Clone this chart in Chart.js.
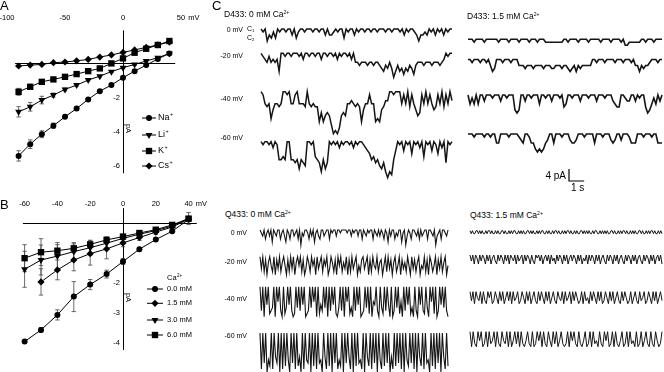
<!DOCTYPE html>
<html>
<head>
<meta charset="utf-8">
<script src="https://cdn.jsdelivr.net/npm/chart.js@4.4.1/dist/chart.umd.min.js"></script>
<style>
  body { margin:0; background:#fff; }
  #fig { position:relative; width:664px; height:372px; overflow:hidden;
         font-family:'Liberation Sans', Arial, sans-serif; color:#000; }
  #fig canvas { position:absolute; }
  .t { position:absolute; white-space:nowrap; line-height:1; color:#000; }
  .t sup { font-size:60%; vertical-align:0; position:relative; top:-0.5em; }
  .t sub { font-size:60%; vertical-align:0; position:relative; top:0.3em; }
  .r { text-align:right; }
</style>
</head>
<body>
<div id="fig">
  <canvas id="chA" width="220" height="180" style="left:0;top:0"></canvas>
  <canvas id="chB" width="220" height="192" style="left:0;top:180px"></canvas>
  <canvas id="chC1" width="205" height="175" style="left:255px;top:20px"></canvas>
  <canvas id="chC2" width="202" height="175" style="left:462px;top:20px"></canvas>
  <canvas id="chC3" width="205" height="152" style="left:255px;top:220px"></canvas>
  <canvas id="chC4" width="202" height="152" style="left:462px;top:220px"></canvas>

  <div class="t" style="left:0;top:-1px;font-size:13px">A</div>
  <div class="t" style="left:0;top:198px;font-size:13px">B</div>
  <div class="t" style="left:212px;top:-1px;font-size:13px">C</div>

  <div class="t" style="left:224px;top:10px;font-size:8.5px">D433: 0 mM Ca<sup>2+</sup></div>
  <div class="t" style="left:467px;top:12px;font-size:8.5px">D433: 1.5 mM Ca<sup>2+</sup></div>
  <div class="t" style="left:225px;top:210px;font-size:8.5px">Q433: 0 mM Ca<sup>2+</sup></div>
  <div class="t" style="left:470px;top:211px;font-size:8.5px">Q433: 1.5 mM Ca<sup>2+</sup></div>

  <div class="t r" style="right:421px;top:25.5px;font-size:7px">0 mV</div>
  <div class="t r" style="right:421px;top:51.5px;font-size:7px">-20 mV</div>
  <div class="t r" style="right:421px;top:94.5px;font-size:7px">-40 mV</div>
  <div class="t r" style="right:421px;top:133.5px;font-size:7px">-60 mV</div>
  <div class="t" style="left:247px;top:24.5px;font-size:7px">C<sub>1</sub></div>
  <div class="t" style="left:247px;top:33.5px;font-size:7px">C<sub>2</sub></div>

  <div class="t r" style="right:417px;top:228.5px;font-size:7px">0 mV</div>
  <div class="t r" style="right:417px;top:257.5px;font-size:7px">-20 mV</div>
  <div class="t r" style="right:417px;top:294.5px;font-size:7px">-40 mV</div>
  <div class="t r" style="right:417px;top:331.5px;font-size:7px">-60 mV</div>
</div>

<script>
// ---------- A · I-V, monovalent cations ----------
const MV_A = [-90, -80, -70, -60, -50, -40, -30, -20, -10, 0, 10, 20, 30, 40];
const NA_A = [-5.39, -4.71, -4.13, -3.64, -3.12, -2.64, -2.11, -1.63, -1.28, -0.85, -0.47, -0.12, 0.24, 0.56];
const LI_A = [-2.83, -2.54, -2.15, -1.86, -1.53, -1.28, -0.99, -0.76, -0.5, -0.27, -0.08, 0.12, 0.31, 0.55];
const K_A  = [-1.67, -1.38, -1.09, -0.95, -0.8, -0.64, -0.47, -0.31, -0.02, 0.27, 0.6, 0.83, 1.05, 1.28];
const CS_A = [-0.17, -0.12, -0.08, 0.02, 0.06, 0.13, 0.21, 0.35, 0.47, 0.62, 0.76, 0.91, 1.05, 1.22];
const NA_A_ERR = [0.3, 0.25, 0.2, 0.15, 0.1, 0.08, 0.06, 0.05, 0.05, 0.05, 0.05, 0.05, 0.05, 0.05];
const LI_A_ERR = [0.3, 0.25, 0.22, 0.12, 0.08, 0.06, 0.05, 0.05, 0.05, 0.05, 0.05, 0.05, 0.05, 0.05];
const K_A_ERR  = [0.2, 0.15, 0.12, 0.08, 0.06, 0.05, 0.05, 0.05, 0.05, 0.05, 0.05, 0.05, 0.05, 0.05];
const X_TICKS_A = [-100, -50, 0, 50];
const Y_TICKS_A = [-2, -4, -6];

// ---------- B · I-V, Na+ with external Ca2+ ----------
const MV_B = [-60, -50, -40, -30, -20, -10, 0, 10, 20, 30, 40];
const CA0_B  = [-3.97, -3.58, -3.08, -2.47, -2.07, -1.72, -1.3, -0.89, -0.57, -0.29, 0.1];
const CA15_B = [null, -1.98, -1.58, -1.25, -1.04, -0.88, -0.68, -0.5, -0.32, -0.15, 0.11];
const CA3_B  = [-1.56, -1.25, -1.12, -0.97, -0.84, -0.69, -0.53, -0.39, -0.27, -0.12, 0.13];
const CA6_B  = [-1.19, -0.99, -0.94, -0.86, -0.73, -0.58, -0.47, -0.35, -0.24, -0.08, 0.13];
const CA0_B_ERR  = [0, 0.08, 0.17, 0.5, 0.17, 0.13, 0.1, 0.06, 0.05, 0.05, 0.05];
const CA15_B_ERR = [0, 0.44, 0.33, 0.36, 0.38, 0.33, 0.13, 0.1, 0.08, 0.05, 0.05];
const CA3_B_ERR  = [0.6, 0.5, 0.45, 0.3, 0.25, 0.2, 0.1, 0.06, 0.05, 0.05, 0.2];
const CA6_B_ERR  = [0.45, 0.45, 0.2, 0.15, 0.12, 0.1, 0.08, 0.06, 0.05, 0.05, 0.05];
const X_TICKS_B = [-60, -40, -20, 0, 20, 40];
const Y_TICKS_B = [-2, -3, -4];

// ---------- C · single-channel records (downward current, pA per sample, base-36 digit) ----------
const TRACE_SECONDS = 12.8;
const D433_0CA = [
  '010423130100100203100100010010020221010030100201001001001000100100010201001242212010201020100',
  '01231323260010010001020010010020010010201001020334333433433456453586465756457433343334333432' + '0100',
  '0145496445400104410444504545' + '5a7a878bedec878443454' + '5a644144a9a6533001000414051468714041465' + '14051403',
  '010010201665600667696780010' + '567a69701' + '0102010010201001234657' + '6897acab63' + '0103010401020501030140207010'
];
const D433_15CA = [
  '00010000100000010000100001000010001000' + '111111111' + '001000010000100000100001000010' + '22111111' + '00100010000',
  '00100010010243000100010002223222322223222332223223432423222220010001000010001000102242322' + '1000100',
  '031303002000100020010005650020010003001002000104300100020001000200010002344001220020100465313020',
  '000100001001003300001000012300133565653200300010002332000100003000100023200200013330001000100333'
];
const Q433_0CA = [
  '0120310204012003102401300210305120013020410230021003010020010000100201002003012010030120201301402003120041052013001203021003001205210300120',
  '0405162035061405203615040620305164025031604205130640251603052406150420635104206150340521630504162053061425036041520634051602530614052063',
  '080a0609870a0508a0970608a90708060a9807050a0968070a080609a7080a05097a08060a9807090a5608a0790806a0a807095a0806097a08a0608907a05090a8060708a',
  '0c0a0d9b0c08a0d0c0b09d0a0c0b8d0c09a0d0b0c0a9d08c0b0d0a0c9b0d0a08c0d0b0a9c0d08b0c0a0d09c0b0a0d8c0b0a0c0d09b0a0c0d08b0c0a9d0b0c0a0d08c0b'
];
const Q433_15CA = [
  '010110010101101001011010110010110101001101010110010101101010011010110100101101010010110101100101010110100110101010110010110101001011010101100101101010010110101',
  '020301302013020310230201302030120302103020130230102031020302130201302031020130203120302013020310230201302031023020130203102302013020310203',
  '0304023040340204302403042030403204302403042034030240304203402304032040302430403240302403043024030420340302430420340320430240304203',
  '0504503054050430504503405053040504530450540305045035040530454050304504530540504350450305405045305405043505405304504503540'
];
const SCALE_BAR = { pA: 4, seconds: 1 };

// layout
const PX_PER_PA = 3;
const FONT = '"Liberation Sans", Arial, sans-serif';

function ptsWithErr(xs, ys, errs) {
  return xs.map((x, i) => ({ x, y: ys[i], e: errs ? errs[i] : 0 })).filter(p => p.y != null);
}

function ivSeries(label, xs, ys, errs, style, radius, rotation) {
  return {
    label, data: ptsWithErr(xs, ys, errs),
    borderColor: '#000', borderWidth: 1, tension: 0, clip: false,
    pointStyle: style, pointRadius: radius, pointRotation: rotation || 0,
    pointBackgroundColor: '#000', pointBorderColor: '#000', pointBorderWidth: 0,
  };
}

function drawSup(ctx, parts, x, y, size) {
  ctx.font = size + 'px ' + FONT;
  ctx.fillText(parts[0], x, y);
  if (parts[1]) {
    const w = ctx.measureText(parts[0]).width;
    ctx.font = (size * 0.6) + 'px ' + FONT;
    ctx.fillText(parts[1], x + w + 0.5, y - size * 0.35);
  }
}

const ivPlugin = {
  id: 'iv',
  beforeDatasetsDraw(chart, args, o) {
    const { ctx, scales: { x, y } } = chart;
    ctx.save();
    ctx.strokeStyle = '#000';
    ctx.lineWidth = 1;
    const y0 = Math.round(y.getPixelForValue(0)) + 0.5;
    const x0 = Math.round(x.getPixelForValue(0)) + 0.5;
    ctx.beginPath();
    ctx.moveTo(x.getPixelForValue(o.xLine[0]), y0);
    ctx.lineTo(x.getPixelForValue(o.xLine[1]), y0);
    ctx.moveTo(x0, y.getPixelForValue(o.yLine[1]));
    ctx.lineTo(x0, y.getPixelForValue(o.yLine[0]));
    ctx.stroke();
    // error bars
    ctx.strokeStyle = '#444';
    ctx.lineWidth = 0.8;
    chart.data.datasets.forEach(ds => {
      ds.data.forEach(p => {
        if (!p.e) return;
        const px = x.getPixelForValue(p.x);
        const t = y.getPixelForValue(p.y + p.e), b = y.getPixelForValue(p.y - p.e);
        ctx.beginPath();
        ctx.moveTo(px, t); ctx.lineTo(px, b);
        ctx.moveTo(px - 2.2, t); ctx.lineTo(px + 2.2, t);
        ctx.moveTo(px - 2.2, b); ctx.lineTo(px + 2.2, b);
        ctx.stroke();
      });
    });
    ctx.restore();
  },
  afterDatasetsDraw(chart, args, o) {
    const { ctx, scales: { x, y } } = chart;
    const x0 = x.getPixelForValue(0);
    ctx.save();
    ctx.fillStyle = '#000';
    ctx.textBaseline = 'middle';
    ctx.font = o.tickSize + 'px ' + FONT;
    // x tick labels in a row above the plot
    o.xTicks.forEach((v, i) => {
      const px = x.getPixelForValue(v);
      ctx.textAlign = 'center';
      ctx.fillText(String(v), px, o.tickRow);
      if (i === o.xTicks.length - 1) {
        ctx.textAlign = 'left';
        ctx.fillText('mV', px + ctx.measureText(String(v)).width / 2 + 3, o.tickRow);
      }
    });
    ctx.textAlign = 'right';
    o.yTicks.forEach(v => ctx.fillText(String(v), x0 - 3, y.getPixelForValue(v)));
    // rotated unit
    ctx.save();
    ctx.translate(x0 + 5, y.getPixelForValue(o.unitAt));
    ctx.rotate(Math.PI / 2);
    ctx.textAlign = 'center';
    ctx.fillText('pA', 0, 0);
    ctx.restore();
    // legend
    const L = o.legend;
    ctx.textAlign = 'left';
    if (L.title) drawSup(ctx, L.title, L.textX, L.titleY, L.size);
    chart.data.datasets.forEach((ds, i) => {
      const ly = L.rows[i];
      ctx.strokeStyle = '#000';
      ctx.lineWidth = 1;
      ctx.beginPath();
      ctx.moveTo(L.lineX[0], ly); ctx.lineTo(L.lineX[1], ly);
      ctx.stroke();
      Chart.helpers.drawPoint(ctx, {
        pointStyle: ds.pointStyle, radius: ds.pointRadius,
        rotation: ds.pointRotation, borderWidth: 0,
      }, (L.lineX[0] + L.lineX[1]) / 2, ly);
      ctx.fillStyle = '#000';
      drawSup(ctx, L.labels[i], L.textX, ly, L.size);
    });
    ctx.restore();
  }
};

function ivChart(id, datasets, xr, yr, pad, plug) {
  return new Chart(document.getElementById(id), {
    type: 'line',
    data: { datasets },
    options: {
      responsive: false, animation: false, devicePixelRatio: 1,
      layout: { padding: pad },
      scales: {
        x: { type: 'linear', min: xr[0], max: xr[1], display: false },
        y: { type: 'linear', min: yr[0], max: yr[1], display: false },
      },
      plugins: { legend: { display: false }, tooltip: { enabled: false }, iv: plug },
    },
    plugins: [ivPlugin],
  });
}

ivChart('chA', [
  ivSeries('Na+', MV_A, NA_A, NA_A_ERR, 'circle', 3),
  ivSeries('Li+', MV_A, LI_A, LI_A_ERR, 'triangle', 4, 180),
  ivSeries('K+', MV_A, K_A, K_A_ERR, 'rect', 4.5),
  ivSeries('Cs+', MV_A, CS_A, null, 'rectRot', 3.6),
], [-100, 50], [-6.5, 2.5], { left: 7, right: 39, top: 20, bottom: 5 }, {
  xLine: [-93, 45], yLine: [-6.4, 1.9], xTicks: X_TICKS_A, yTicks: Y_TICKS_A,
  tickSize: 7.5, tickRow: 18, unitAt: -3.8,
  legend: { lineX: [142, 156], textX: 158, rows: [118, 135, 151, 166], size: 9,
            labels: [['Na', '+'], ['Li', '+'], ['K', '+'], ['Cs', '+']] },
});

ivChart('chB', [
  ivSeries('0.0 mM', MV_B, CA0_B, CA0_B_ERR, 'circle', 3),
  ivSeries('1.5 mM', MV_B, CA15_B, CA15_B_ERR, 'rectRot', 3.6),
  ivSeries('3.0 mM', MV_B, CA3_B, CA3_B_ERR, 'triangle', 4, 180),
  ivSeries('6.0 mM', MV_B, CA6_B, CA6_B_ERR, 'rect', 4.5),
], [-70, 50], [-4.4, 0.8], { left: 8.2, right: 15, top: 18.5, bottom: 17.5 }, {
  xLine: [-61, 45], yLine: [-4.25, 0.48], xTicks: X_TICKS_B, yTicks: Y_TICKS_B,
  tickSize: 7.5, tickRow: 24, unitAt: -2.5,
  legend: { lineX: [147, 163], textX: 167, rows: [109, 123.3, 140, 155], size: 7.5,
            title: ['Ca', '2+'], titleY: 98,
            labels: [['0.0 mM'], ['1.5 mM'], ['3.0 mM'], ['6.0 mM']] },
});

// ---------- C charts ----------
const scaleBarPlugin = {
  id: 'scalebar',
  afterDatasetsDraw(chart, args, o) {
    if (!o || !o.corner) return;
    const { ctx, scales: { x, y } } = chart;
    const w = x.getPixelForValue(SCALE_BAR.seconds) - x.getPixelForValue(0);
    const h = y.getPixelForValue(0) - y.getPixelForValue(SCALE_BAR.pA);
    const [cx, cy] = o.corner;
    ctx.save();
    ctx.strokeStyle = '#000';
    ctx.lineWidth = 1.2;
    ctx.beginPath();
    ctx.moveTo(cx, cy - h); ctx.lineTo(cx, cy); ctx.lineTo(cx + w, cy);
    ctx.stroke();
    ctx.fillStyle = '#000';
    ctx.font = '10px ' + FONT;
    ctx.textBaseline = 'middle';
    ctx.textAlign = 'right';
    ctx.fillText(SCALE_BAR.pA + ' pA', cx - 3, cy - h / 2 + 1);
    ctx.textAlign = 'center';
    ctx.fillText(SCALE_BAR.seconds + ' s', cx + w / 2 + 1, cy + 7.5);
    ctx.restore();
  }
};

function traceChart(id, rows, baselines, pad, width, bar) {
  const canvas = document.getElementById(id);
  const datasets = rows.map((s, k) => {
    const vals = [...s].map(c => parseInt(c, 36));
    const off = -baselines[k] / PX_PER_PA;
    return {
      data: vals.map((v, i) => ({ x: i * TRACE_SECONDS / (vals.length - 1), y: off - v })),
      borderColor: '#151515', borderWidth: width, pointRadius: 0, tension: 0,
      borderJoinStyle: 'miter', clip: false,
    };
  });
  return new Chart(canvas, {
    type: 'line',
    data: { datasets },
    options: {
      responsive: false, animation: false, devicePixelRatio: 1,
      layout: { padding: pad },
      scales: {
        x: { type: 'linear', min: 0, max: TRACE_SECONDS, display: false },
        y: { type: 'linear', min: -canvas.height / PX_PER_PA, max: 0, display: false },
      },
      plugins: { legend: { display: false }, tooltip: { enabled: false }, scalebar: bar },
    },
    plugins: [scaleBarPlugin],
  });
}

traceChart('chC1', D433_0CA, [9, 33.3, 71.7, 121.7], { left: 6, right: 8, top: 0, bottom: 0 }, 1.5);
traceChart('chC2', D433_15CA, [19.2, 39.5, 75, 114], { left: 6, right: 2, top: 0, bottom: 0 }, 1.6,
           { corner: [107, 161] });
traceChart('chC3', Q433_0CA, [10, 36.7, 66.7, 113], { left: 5, right: 12, top: 0, bottom: 0 }, 1.1);
traceChart('chC4', Q433_15CA, [10.7, 35, 71.7, 111.7], { left: 8, right: 2, top: 0, bottom: 0 }, 1);
</script>
</body>
</html>
